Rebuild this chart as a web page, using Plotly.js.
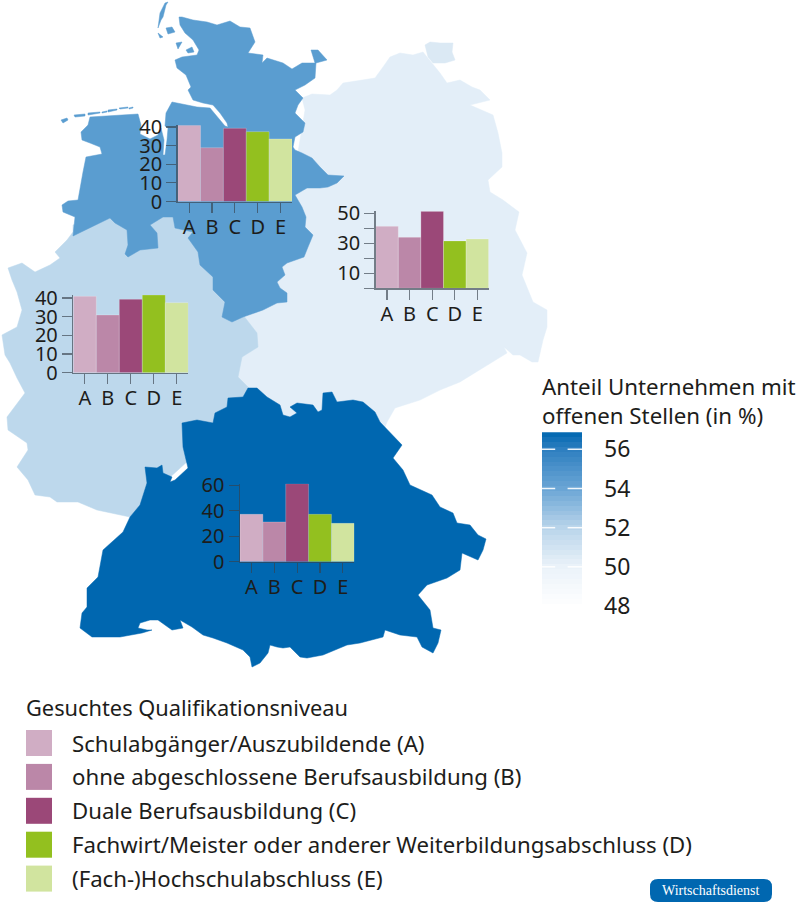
<!DOCTYPE html>
<html><head><meta charset="utf-8">
<script src="https://cdn.plot.ly/plotly-3.0.1.min.js"></script>
<style>html,body{margin:0;padding:0;background:#fff}</style></head>
<body><div id="chart" style="width:800px;height:921px"></div>
<script>
// ---- data ----
const categories = ['A','B','C','D','E'];
const northValues = [40.9,28.9,39.3,37.5,33.6];
const eastValues  = [41.3,34.0,51.3,31.6,32.9];
const westValues  = [40.9,30.9,39.3,41.6,37.5];
const southValues = [37.2,31.2,61.3,37.2,30.1];
const northTicks = [0,10,20,30,40];
const eastTicks  = [0,10,20,30,40,50];
const eastTickText = ['','10','','30','','50'];
const westTicks  = [0,10,20,30,40];
const southTicks = [0,20,40,60];
const levelLabels = ['Schulabgänger/Auszubildende (A)','ohne abgeschlossene Berufsausbildung (B)','Duale Berufsausbildung (C)','Fachwirt/Meister oder anderer Weiterbildungsabschluss (D)','(Fach-)Hochschulabschluss (E)'];
const levelColors = ['#d0adc4','#bb87a8','#9b4878','#93c01f','#d1e49f'];
const shareTicks = [56,54,52,50,48];
const shareRamp = [47.75,48,48.25,48.5,48.75,49,49.25,49.5,49.75,50,50.25,50.5,50.75,51,51.25,51.5,51.75,52,52.25,52.5,52.75,53,53.25,53.5,53.75,54,54.25,54.5,54.75,55,55.25,55.5,55.75,56,56.25,56.5,56.75,57];

// ---- map outlines (x,y pairs on the page-sized map axis) ----
const northOutline = [179,17,182,17,193,20,207,22,217,25,230,21,240,27,250,28,255,42,248,53,263,55,262,63,267,58,283,63,292,69,302,63,315,63,313,57,311,50,318,50,327,60,316,63,315,78,305,85,295,90,303,98,298,105,295,113,305,123,303,132,295,137,293,147,295,150,302,153,312,158,320,167,328,175,344,176,337,183,328,187,320,188,307,188,295,195,302,207,306,217,305,227,313,235,308,247,304,257,287,263,282,267,285,275,277,282,280,288,287,293,287,302,277,303,263,310,255,313,243,317,232,322,222,317,225,302,213,290,213,277,200,265,198,252,188,238,193,232,175,228,173,217,163,217,150,225,157,233,158,248,140,250,128,257,125,254,128,245,127,230,115,223,110,218,73,236,75,217,63,212,62,205,68,201,78,200,83,172,86,157,102,154,100,147,90,143,82,140,81,132,88,125,90,117,138,114,141,125,140,134,150,139,158,135,161,128,164,140,163,155,165,155,167,140,168,128,165,126,166,113,172,102,187,105,197,107,210,108,218,117,225,126,228,127,227,123,220,113,213,105,203,103,193,100,188,90,191,87,186,75,177,68,175,60,182,57,197,55,199,50,193,40,185,33,180,25];
const northIslands = [
 [168,2,165,3,160,13,158,28,161,20,163,17,166,5],
 [166,28,172,27,175,32,168,34],
 [158,33,163,37,160,38],
 [176,43,182,42,178,49],
 [186,50,192,47,194,52,188,53],
 [61,120,67,118,68,120,63,123],
 [74,115,85,114,85,116,75,117],
 [88,113,100,112,100,113,88,115],
 [102,112,107,111,107,112,102,113],
 [108,110,117,109,117,110,108,112],
 [119,108,128,107,128,108,120,109],
 [129,108,133,107,133,108,129,109]
];
const eastOutline = [302,98,312,94,330,95,337,90,343,83,360,80,375,78,383,67,390,57,400,53,413,55,423,52,432,63,440,73,447,83,460,80,472,87,480,90,490,100,470,105,493,115,498,133,502,153,502,167,488,180,490,192,503,200,519,212,515,230,527,253,522,275,528,290,533,302,547,310,547,327,543,340,538,362,532,362,520,355,513,355,504,347,507,353,483,368,460,382,440,390,420,400,395,408,387,422,380,440,300,440,240,420,230,350,290,200,305,110];
const ruegenOutline = [425,45,430,42,440,43,453,43,452,52,455,60,445,63,433,63,428,57];
const westOutline = [73,232,67,240,55,252,60,258,50,265,35,272,22,263,8,268,12,280,17,292,22,310,17,327,2,335,5,355,10,363,17,378,25,393,20,400,7,417,8,430,27,443,28,450,17,467,28,480,35,495,50,497,57,502,78,502,97,510,130,517,145,500,200,450,250,392,248,387,238,377,242,357,258,347,257,333,243,315,225,300,195,230,175,210,110,210,73,225];
const southOutline = [248,388,257,388,267,397,280,405,283,415,290,417,297,413,290,407,297,403,313,405,318,412,322,410,323,393,332,392,337,402,353,400,363,402,375,412,380,422,395,437,402,445,393,458,403,470,410,485,432,495,440,507,453,513,457,523,470,525,478,535,486,539,483,550,478,560,462,553,460,570,447,578,427,585,418,595,430,610,433,628,441,630,438,643,433,653,422,647,417,637,400,635,385,630,383,637,370,640,360,643,347,645,335,650,323,655,307,658,300,657,290,647,283,648,277,647,270,645,268,653,260,663,252,667,250,657,243,650,227,643,213,638,203,635,192,627,180,620,183,628,172,630,158,620,150,620,140,623,138,628,147,630,152,630,142,633,120,637,102,637,92,637,80,628,82,613,87,607,87,588,98,577,103,550,123,532,130,517,140,505,147,483,145,467,157,468,162,465,163,473,172,477,170,482,175,480,188,468,183,447,182,423,197,420,213,423,215,413,227,407,228,398,243,397];

// ---- helpers ----
const W = 800, H = 921;
const font = 'Noto Sans, Open Sans, sans-serif';
const ink = '#1d1d1b';
const axisInk = 'rgba(55,65,75,0.65)';
const xs = p => p.filter((_,i)=>i%2===0);
const ys = p => p.filter((_,i)=>i%2===1);
const joinX = list => list.flatMap(p => [...xs(p), xs(p)[0], null]);
const joinY = list => list.flatMap(p => [...ys(p), ys(p)[0], null]);
const region = (name, polys, color) => ({type:'scatter', mode:'lines', name, x:joinX(polys), y:joinY(polys), fill:'toself', fillcolor:color, line:{color, width:0.5}, hoverinfo:'name', showlegend:false, xaxis:'x', yaxis:'y'});

const traces = [
  region('Ost', [eastOutline], '#e3eef8'),
  region('Rügen', [ruegenOutline], '#dbe9f4'),
  region('West', [westOutline], '#bdd8ec'),
  region('Nord', [northOutline, ...northIslands], '#5a9dd0'),
  region('Süd', [southOutline], '#0067b0')
];

const layout = {
  width:W, height:H, margin:{l:0,r:0,t:0,b:0}, paper_bgcolor:'#fff', plot_bgcolor:'rgba(0,0,0,0)',
  showlegend:false, bargap:0, font:{family:font,color:ink},
  xaxis:{domain:[0,1], range:[0,W], visible:false, fixedrange:true},
  yaxis:{domain:[0,1], range:[H,0], visible:false, fixedrange:true},
  shapes:[], annotations:[]
};

function panel(n, name, values, ticks, tickText, box){
  const xa='xaxis'+n, ya='yaxis'+n;
  const lastTick = ticks[ticks.length-1];
  const top = Math.max(lastTick, ...values);
  const pxPerUnit = (box.b-box.t)/lastTick;
  traces.push({type:'bar', name, x:categories, y:values, xaxis:'x'+n, yaxis:'y'+n,
    marker:{color:levelColors, line:{color:'rgba(255,255,255,0.22)', width:1}}, showlegend:false});
  layout[xa] = {domain:[box.l/W, box.r/W], anchor:'y'+n, type:'category', range:[-0.5,4.5], fixedrange:true,
    tickmode:'array', tickvals:categories, ticktext:categories,
    showgrid:false, zeroline:false, showline:true, linecolor:axisInk, linewidth:1.5,
    ticks:'outside', ticklen:10, tickcolor:axisInk, tickwidth:1.2, ticklabelstandoff:-3,
    tickfont:{family:font,size:20,color:ink}};
  layout[ya] = {domain:[1-box.b/H, 1-(box.b-top*pxPerUnit)/H], anchor:'x'+n, range:[0,top], fixedrange:true,
    tickmode:'array', tickvals:ticks, ticktext:tickText, showgrid:false, zeroline:false,
    showline:true, linecolor:axisInk, linewidth:1.5, ticks:'outside', ticklen:10, tickcolor:axisInk, tickwidth:1.2,
    tickfont:{family:font,size:20,color:ink}};
}
panel(2,'Nord',northValues,northTicks,northTicks.map(String),{l:177.7,r:292,t:127,b:201.5});
panel(3,'Ost',eastValues,eastTicks,eastTickText,{l:375.7,r:488.7,t:213.3,b:288.3});
panel(4,'West',westValues,westTicks,westTicks.map(String),{l:73.3,r:188.3,t:298,b:372.7});
panel(5,'Süd',southValues,southTicks,southTicks.map(String),{l:240,r:354.3,t:485.3,b:561.7});

// colour scale, drawn as a ramp on its own axis
const scaleTop = 432.3, scaleBottom = 606, scaleLeft = 542, scaleRight = 582;
const shareMin = 48, shareMax = 56.87;
const stop = v => (v-shareMin)/(shareMax-shareMin);
traces.push({type:'heatmap', name:'Anteil', x:[0,1], y:shareRamp, z:shareRamp.map(v=>[v,v]), xaxis:'x6', yaxis:'y6',
  zmin:shareMin, zmax:shareMax, showscale:false, hoverinfo:'skip',
  colorscale:[[0,'#ffffff'],[stop(50),'#eaf2f9'],[stop(52),'#b8d4ea'],[stop(54),'#6aa5d5'],[stop(56),'#2e7fc0'],[1,'#0067b0']]});
layout.xaxis6 = {domain:[scaleLeft/W,scaleRight/W], anchor:'y6', range:[0,1], visible:false, fixedrange:true};
layout.yaxis6 = {domain:[1-scaleBottom/H,1-scaleTop/H], anchor:'x6', side:'right', range:[shareMin,shareMax], fixedrange:true,
  tickmode:'array', tickvals:shareTicks, ticktext:shareTicks.map(String), ticks:'', showgrid:false, zeroline:false, showline:false,
  ticklabelstandoff:21, tickfont:{family:font,size:23,color:ink}};
shareTicks.slice(0,4).forEach(v=>{
  [[0,0.33],[0.64,1]].forEach(([a,b])=>layout.shapes.push({type:'line', xref:'x6', yref:'y6', x0:a, x1:b, y0:v, y1:v, layer:'above', line:{color:'rgba(255,255,255,0.9)', width:1.5}}));
});
layout.annotations.push({xref:'x',yref:'y',x:540,y:386,xanchor:'left',yanchor:'middle',showarrow:false,text:'Anteil Unternehmen mit',font:{family:font,size:22.3,color:ink}});
layout.annotations.push({xref:'x',yref:'y',x:540,y:415,xanchor:'left',yanchor:'middle',showarrow:false,text:'offenen Stellen (in %)',font:{family:font,size:22.3,color:ink}});

// qualification legend
layout.annotations.push({xref:'x',yref:'y',x:24,y:707,xanchor:'left',yanchor:'middle',showarrow:false,text:'Gesuchtes Qualifikationsniveau',font:{family:font,size:21.8,color:ink}});
levelLabels.forEach((label,i)=>{
  const cy = 743 + i*33.9;
  layout.shapes.push({type:'rect',xref:'x',yref:'y',x0:26,x1:52,y0:cy-13,y1:cy+13,fillcolor:levelColors[i],line:{width:0}});
  layout.annotations.push({xref:'x',yref:'y',x:70,y:cy,xanchor:'left',yanchor:'middle',showarrow:false,text:label,font:{family:font,size:22.2,color:ink}});
});

// publisher badge
layout.shapes.push({type:'path',xref:'x',yref:'y',fillcolor:'#0067b0',line:{width:0},
  path:'M 658 879 L 764 879 Q 772 879 772 887 L 772 894 Q 772 902 764 902 L 658 902 Q 650 902 650 894 L 650 887 Q 650 879 658 879 Z'});
layout.annotations.push({xref:'x',yref:'y',x:711,y:890.5,xanchor:'center',yanchor:'middle',showarrow:false,text:'Wirtschaftsdienst',font:{family:'Liberation Serif, serif',size:14,color:'#ffffff'}});

Plotly.newPlot('chart',traces,layout,{displayModeBar:false,staticPlot:true});
</script></body></html>
